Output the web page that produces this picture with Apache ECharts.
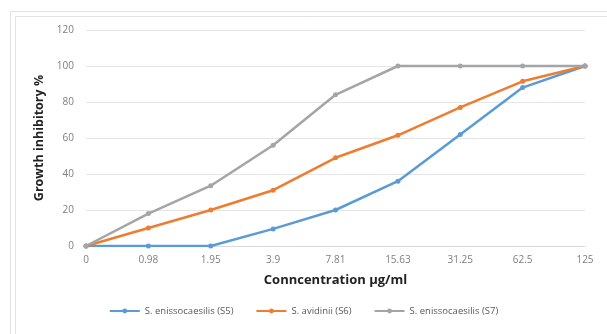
<!DOCTYPE html>
<html><head><meta charset="utf-8">
<script src="https://cdn.jsdelivr.net/npm/echarts@6/dist/echarts.min.js"></script>
<style>html,body{margin:0;padding:0;background:#fff}#c{width:607px;height:334px}</style>
</head><body><div id="c"></div>
<script>
const categories = ['0','0.98','1.95','3.9','7.81','15.63','31.25','62.5','125'];
const s5 = [0, 0, 0, 9.5, 20, 36, 62, 88, 100];
const s6 = [0, 10, 20, 31, 49, 61.5, 77, 91.5, 100];
const s7 = [0, 18, 33.5, 56, 84, 100, 100, 100, 100];
const seriesNames = ['S. enissocaesilis (S5)', 'S. avidinii (S6)', 'S. enissocaesilis (S7)'];
const colors = ['#5b9bd5', '#ed7d31', '#a5a5a5'];

const chart = echarts.init(document.getElementById('c'), null, {renderer:'canvas'});
const mk = (name, data, color) => ({
  name, type:'line', data, symbol:'circle', symbolSize:5,
  lineStyle:{width:2.5, color}, itemStyle:{color}, z: 2
});
chart.setOption({
  animation:false,
  color: colors,
  graphic:[
    {type:'polyline', shape:{points:[[10.5,340],[10.5,11.5],[620,11.5]]}, style:{stroke:'#e2e2e2', lineWidth:1, fill:null}},
    {type:'polyline', shape:{points:[[15.5,340],[15.5,16.5],[620,16.5]]}, style:{stroke:'#e2e2e2', lineWidth:1, fill:null}}
  ],
  grid:{left:86, right:22, top:30, bottom:88},
  legend:{
    bottom:13, left:'center', itemWidth:30, itemHeight:6, itemGap:22,
    textStyle:{color:'#595959', fontSize:9.5, fontFamily:'Open Sans'},
    data: seriesNames
  },
  xAxis:{
    type:'category', data:categories, boundaryGap:false,
    name:'Conncentration \u03bcg/ml', nameLocation:'middle', nameGap:28,
    nameTextStyle:{fontSize:13, fontWeight:'bold', color:'#222', fontFamily:'Open Sans'},
    axisLine:{lineStyle:{color:'#d9d9d9'}}, axisTick:{show:false},
    axisLabel:{color:'#7f7f7f', fontSize:10, margin:9, fontFamily:'Open Sans'}
  },
  yAxis:{
    type:'value', min:0, max:120, interval:20,
    name:'Growth inhibitory %', nameLocation:'middle', nameGap:35,
    nameTextStyle:{fontSize:12.5, fontWeight:'bold', color:'#222', fontFamily:'Open Sans'},
    axisLine:{show:false}, axisTick:{show:false},
    axisLabel:{color:'#7f7f7f', fontSize:10, margin:12, fontFamily:'Open Sans'},
    splitLine:{lineStyle:{color:'#e6e6e6'}}
  },
  series:[mk(seriesNames[0], s5, colors[0]), mk(seriesNames[1], s6, colors[1]), mk(seriesNames[2], s7, colors[2])]
});
</script></body></html>
